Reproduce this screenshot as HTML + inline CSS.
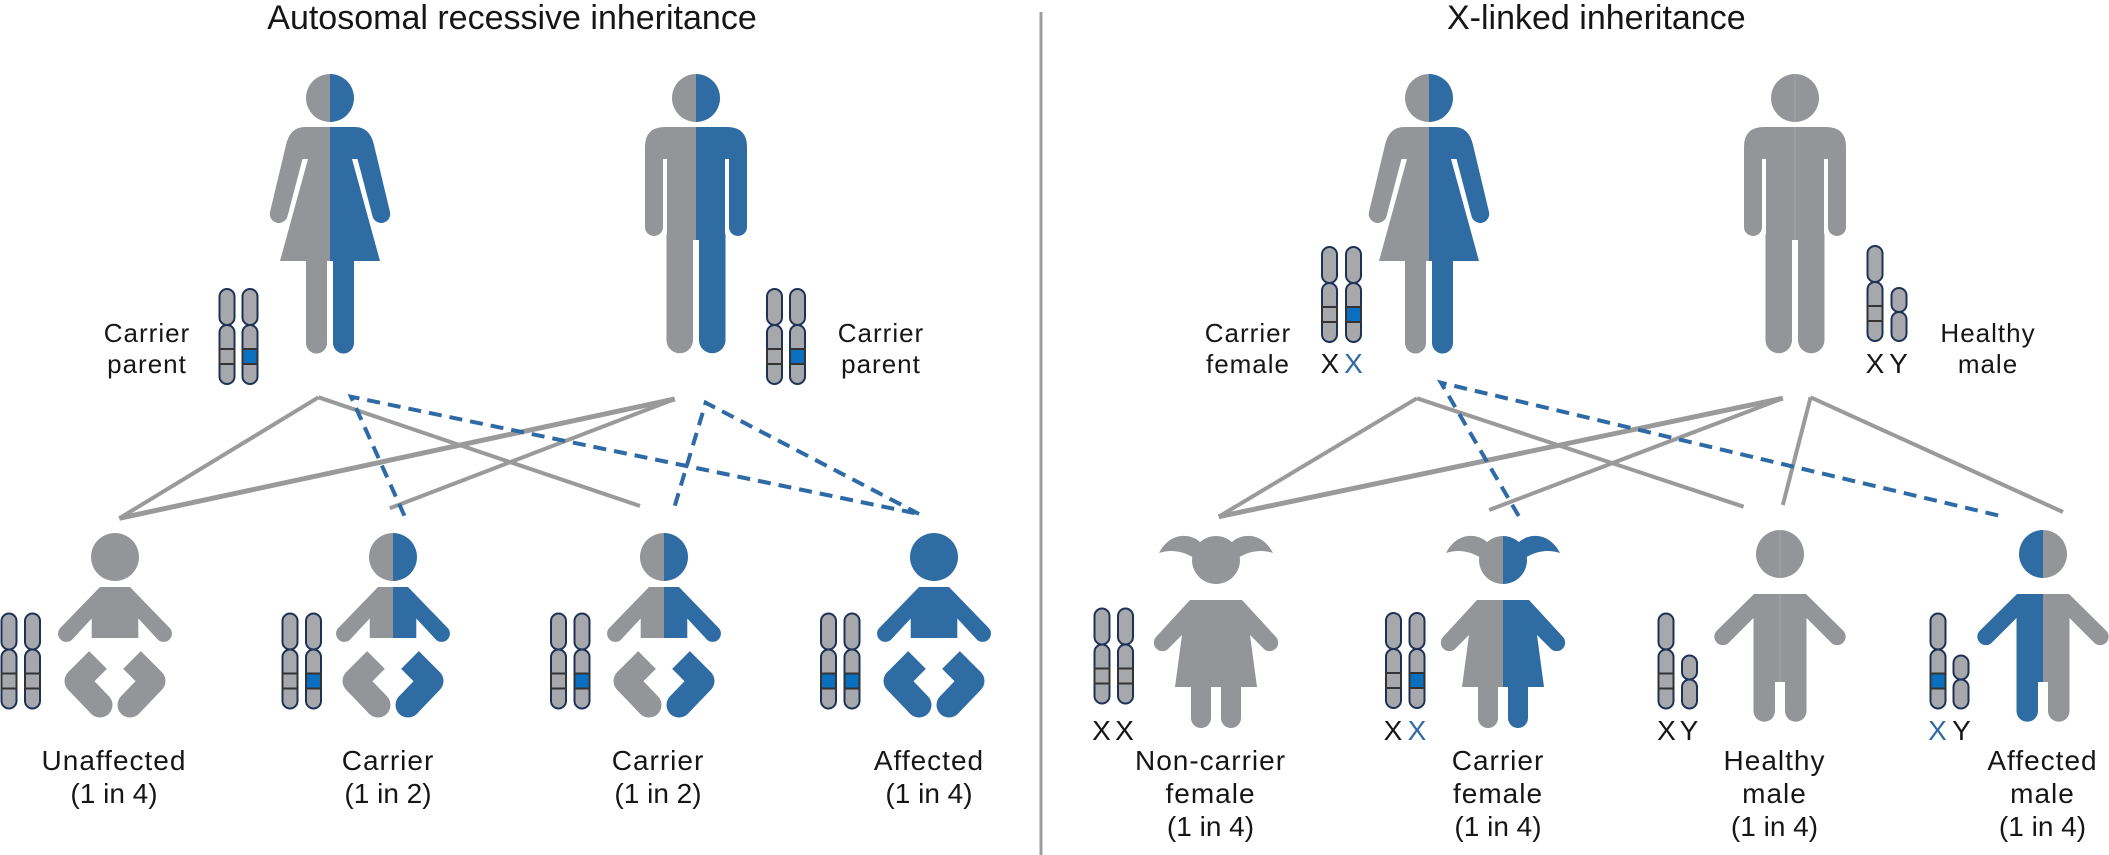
<!DOCTYPE html>
<html>
<head>
<meta charset="utf-8">
<style>
  html, body { margin: 0; padding: 0; background: #ffffff; }
  body { width: 2109px; height: 855px; overflow: hidden; }
  svg { display: block; }
  text { font-family: "Liberation Sans", Arial, sans-serif; fill: #161616; }
</style>
</head>
<body>
<svg width="2109" height="855" viewBox="0 0 2109 855" xmlns="http://www.w3.org/2000/svg">
  <defs>
    <!-- adult female, left half, cx = 0 -->
    <g id="afL">
      <path d="M0,74 A24,24 0 0 0 0,122 Z"/>
      <path d="M0,127 L-25,127 Q-40,127 -44,145 L-60,212 A9,9 0 0 0 -42.5,216.2 L-27.5,159 L-22,159 L-50,261 L0,261 Z"/>
      <path d="M-24,255 L-24,343 A10.5,10.5 0 0 0 -3,343 L-3,255 Z"/>
    </g>
    <!-- adult male, left half -->
    <g id="amL">
      <path d="M0,74 A24,24 0 0 0 0,122 Z"/>
      <path d="M0,127 L-31,127 Q-51,127 -51,147 L-51,227 A9,9 0 0 0 -33,227 L-33,159 L-29,159 L-29,240 L0,240 Z"/>
      <path d="M-29.5,234 L-29.5,340 A13.25,13.25 0 0 0 -3,340 L-3,234 Z"/>
    </g>
    <!-- baby, left half -->
    <g id="bbL">
      <path d="M0,533 A24,24 0 0 0 0,581 Z"/>
      <path d="M0,587 L-15,587 L-55.1,628.4 A8.3,8.3 0 0 0 -42.9,639.6 L-23.3,618.5 L-23.3,638 L0,638 Z"/>
      <polygon points="-8.16,668.84 -25.84,651.16 -46.84,672.16 -29.16,689.84"/>
      <polygon points="-47.03,689.65 -28.97,672.35 -5.97,696.35 -24.03,713.65"/>
      <circle cx="-38" cy="681" r="12.5"/>
      <circle cx="-15" cy="705" r="12.5"/>
    </g>
    <!-- girl, left half -->
    <g id="grL">
      <path d="M0,536 A24,24 0 0 0 0,584 Z"/>
      <path d="M-16,542 C-26,533 -46,532 -57,553 C-45,549 -33,551 -22,558 Z"/>
      <path d="M0,600 L-26,600 L-60,637 A8.5,8.5 0 0 0 -48,649 L-34,635 L-41,687 L0,687 Z"/>
      <path d="M-25,680 L-25,718 A10,10 0 0 0 -5,718 L-5,680 Z"/>
    </g>
    <!-- boy, left half -->
    <g id="byL">
      <path d="M0,530 A24,24 0 0 0 0,578 Z"/>
      <path d="M0,594 L-26,594 L-63.5,631 A8.5,8.5 0 0 0 -51.5,643 L-26.5,618 L-26.5,682 L0,682 Z"/>
      <path d="M-26.5,676 L-26.5,711 A10.75,10.75 0 0 0 -5,711 L-5,676 Z"/>
    </g>

    <!-- chromosomes -->
    <g id="chrBase" fill="#a6a8ab" stroke="#1e3258" stroke-width="2">
      <rect x="1" y="1" width="15" height="36" rx="7.5"/>
      <rect x="1" y="37" width="15" height="59" rx="7.5"/>
    </g>
    <g id="cG">
      <use href="#chrBase"/>
      <rect x="1" y="61" width="15" height="15" fill="#a6a8ab" stroke="#333333" stroke-width="2"/>
    </g>
    <g id="cB">
      <use href="#chrBase"/>
      <rect x="1" y="61" width="15" height="15" fill="#0a6fbf" stroke="#333333" stroke-width="2"/>
    </g>
    <g id="cY" fill="#a6a8ab" stroke="#1e3258" stroke-width="2">
      <rect x="1" y="43" width="15" height="24" rx="7.5"/>
      <rect x="1" y="67" width="15" height="29" rx="7.5"/>
    </g>
  </defs>

  <!-- divider -->
  <rect x="1039.5" y="12" width="3" height="843" fill="#9d9d9d"/>

  <!-- titles -->
  <text x="512" y="29" font-size="34" text-anchor="middle">Autosomal recessive inheritance</text>
  <text x="1447" y="29" font-size="34">X-linked inheritance</text>

  <!-- ============ LEFT PANEL ============ -->
  <!-- lines -->
  <g stroke="#9a9a9a" stroke-width="4" fill="none">
    <line x1="318.5" y1="397.3" x2="119.3" y2="518.3"/>
    <line x1="318.5" y1="397.3" x2="640" y2="506"/>
    <line x1="674.8" y1="399" x2="119.3" y2="518.3" stroke-width="5"/>
    <line x1="674.8" y1="399" x2="389.8" y2="508.3"/>
  </g>
  <g stroke="#2e6aa5" stroke-width="4" fill="none" stroke-dasharray="13 8" stroke-linejoin="miter">
    <polyline points="404.4,515.7 351,396.7 919,514"/>
    <polyline points="674.8,505.7 705.7,402.7 919,514"/>
  </g>

  <!-- parents -->
  <use href="#afL" transform="translate(330,0)" fill="#939598"/>
  <use href="#afL" transform="translate(330,0) scale(-1,1)" fill="#2f6ca3"/>
  <use href="#amL" transform="translate(696,0)" fill="#939598"/>
  <use href="#amL" transform="translate(696,0) scale(-1,1)" fill="#2f6ca3"/>

  <use href="#cG" x="218.5" y="288"/>
  <use href="#cB" x="241.5" y="288"/>
  <use href="#cG" x="766" y="288"/>
  <use href="#cB" x="789" y="288"/>

  <text x="147" y="342" font-size="26" text-anchor="middle" letter-spacing="1">Carrier</text>
  <text x="147" y="373" font-size="26" text-anchor="middle" letter-spacing="1">parent</text>
  <text x="881" y="342" font-size="26" text-anchor="middle" letter-spacing="1">Carrier</text>
  <text x="881" y="373" font-size="26" text-anchor="middle" letter-spacing="1">parent</text>

  <!-- babies -->
  <use href="#bbL" transform="translate(115,0)" fill="#939598"/>
  <use href="#bbL" transform="translate(115,0) scale(-1,1)" fill="#939598"/>
  <use href="#bbL" transform="translate(393,0)" fill="#939598"/>
  <use href="#bbL" transform="translate(393,0) scale(-1,1)" fill="#2f6ca3"/>
  <use href="#bbL" transform="translate(664,0)" fill="#939598"/>
  <use href="#bbL" transform="translate(664,0) scale(-1,1)" fill="#2f6ca3"/>
  <use href="#bbL" transform="translate(934,0)" fill="#2f6ca3"/>
  <use href="#bbL" transform="translate(934,0) scale(-1,1)" fill="#2f6ca3"/>

  <use href="#cG" x="0.5" y="612.5"/>
  <use href="#cG" x="24" y="612.5"/>
  <use href="#cG" x="281.5" y="612.5"/>
  <use href="#cB" x="305" y="612.5"/>
  <use href="#cG" x="550" y="612.5"/>
  <use href="#cB" x="573.5" y="612.5"/>
  <use href="#cB" x="820" y="612.5"/>
  <use href="#cB" x="843.5" y="612.5"/>

  <g font-size="28" text-anchor="middle">
    <text x="114" y="770" letter-spacing="1">Unaffected</text>
    <text x="114" y="803">(1 in 4)</text>
    <text x="388" y="770" letter-spacing="1">Carrier</text>
    <text x="388" y="803">(1 in 2)</text>
    <text x="658" y="770" letter-spacing="1">Carrier</text>
    <text x="658" y="803">(1 in 2)</text>
    <text x="929" y="770" letter-spacing="1">Affected</text>
    <text x="929" y="803">(1 in 4)</text>
  </g>

  <!-- ============ RIGHT PANEL ============ -->
  <g stroke="#9a9a9a" stroke-width="4" fill="none">
    <line x1="1416.9" y1="398.3" x2="1218.7" y2="516.7"/>
    <line x1="1416.9" y1="398.3" x2="1743.6" y2="506.7"/>
    <line x1="1782.8" y1="398.3" x2="1218.7" y2="516.7" stroke-width="5"/>
    <line x1="1782.8" y1="398.3" x2="1489.2" y2="510"/>
    <line x1="1810.6" y1="397.3" x2="1782.8" y2="505"/>
    <line x1="1810.6" y1="397.3" x2="2063" y2="512"/>
  </g>
  <g stroke="#2e6aa5" stroke-width="4" fill="none" stroke-dasharray="13 8">
    <polyline points="1518.7,516 1441,382.7 2003.4,516.7"/>
  </g>

  <!-- parents -->
  <use href="#afL" transform="translate(1429,0)" fill="#939598"/>
  <use href="#afL" transform="translate(1429,0) scale(-1,1)" fill="#2f6ca3"/>
  <use href="#amL" transform="translate(1795,0)" fill="#939598"/>
  <use href="#amL" transform="translate(1795,0) scale(-1,1)" fill="#939598"/>
  <g stroke="#a5a7aa" stroke-width="1">
    <line x1="1795" y1="74" x2="1795" y2="122"/>
    <line x1="1795" y1="127" x2="1795" y2="240"/>
  </g>

  <use href="#cG" x="1321" y="246"/>
  <use href="#cB" x="1345" y="246"/>
  <use href="#cG" x="1866.5" y="245"/>
  <use href="#cY" x="1890.5" y="245"/>

  <text x="1248" y="342" font-size="26" text-anchor="middle" letter-spacing="1">Carrier</text>
  <text x="1248" y="373" font-size="26" text-anchor="middle" letter-spacing="1">female</text>
  <text x="1988" y="342" font-size="26" text-anchor="middle" letter-spacing="1">Healthy</text>
  <text x="1988" y="373" font-size="26" text-anchor="middle" letter-spacing="1">male</text>

  <g font-size="28" text-anchor="middle">
    <text x="1330" y="373">X</text>
    <text x="1353.5" y="373" style="fill:#2f6ca3">X</text>
    <text x="1875" y="373">X</text>
    <text x="1898.5" y="373">Y</text>
  </g>

  <!-- children -->
  <use href="#grL" transform="translate(1216,0)" fill="#939598"/>
  <use href="#grL" transform="translate(1216,0) scale(-1,1)" fill="#939598"/>
  <use href="#grL" transform="translate(1503,0)" fill="#939598"/>
  <use href="#grL" transform="translate(1503,0) scale(-1,1)" fill="#2f6ca3"/>
  <use href="#byL" transform="translate(1780,0)" fill="#939598"/>
  <use href="#byL" transform="translate(1780,0) scale(-1,1)" fill="#939598"/>
  <g stroke="#a5a7aa" stroke-width="1">
    <line x1="1780" y1="530" x2="1780" y2="578"/>
    <line x1="1780" y1="594" x2="1780" y2="682"/>
  </g>
  <use href="#byL" transform="translate(2043,0)" fill="#2f6ca3"/>
  <use href="#byL" transform="translate(2043,0) scale(-1,1)" fill="#939598"/>

  <use href="#cG" x="1093.5" y="607.5"/>
  <use href="#cG" x="1117" y="607.5"/>
  <use href="#cG" x="1385" y="612"/>
  <use href="#cB" x="1408.5" y="612"/>
  <use href="#cG" x="1657.5" y="612.5"/>
  <use href="#cY" x="1681" y="612.5"/>
  <use href="#cB" x="1929.5" y="612.5"/>
  <use href="#cY" x="1952.5" y="612.5"/>

  <g font-size="28" text-anchor="middle">
    <text x="1101.5" y="740">X</text>
    <text x="1124.5" y="740">X</text>
    <text x="1393" y="740">X</text>
    <text x="1417" y="740" style="fill:#2f6ca3">X</text>
    <text x="1666.5" y="740">X</text>
    <text x="1689" y="740">Y</text>
    <text x="1937.5" y="740" style="fill:#2f6ca3">X</text>
    <text x="1961.5" y="740">Y</text>
  </g>

  <g font-size="28" text-anchor="middle">
    <text x="1210.5" y="770" letter-spacing="1">Non-carrier</text>
    <text x="1210.5" y="803" letter-spacing="1">female</text>
    <text x="1210.5" y="836">(1 in 4)</text>

    <text x="1498" y="770" letter-spacing="1">Carrier</text>
    <text x="1498" y="803" letter-spacing="1">female</text>
    <text x="1498" y="836">(1 in 4)</text>

    <text x="1774.5" y="770" letter-spacing="1">Healthy</text>
    <text x="1774.5" y="803" letter-spacing="1">male</text>
    <text x="1774.5" y="836">(1 in 4)</text>

    <text x="2042.5" y="770" letter-spacing="1">Affected</text>
    <text x="2042.5" y="803" letter-spacing="1">male</text>
    <text x="2042.5" y="836">(1 in 4)</text>
  </g>
</svg>
</body>
</html>
